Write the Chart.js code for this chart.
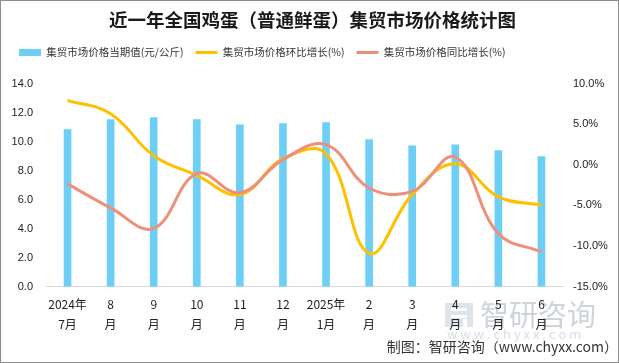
<!DOCTYPE html>
<html>
<head>
<meta charset="utf-8">
<script src="https://cdn.jsdelivr.net/npm/chart.js@4"></script>
<style>
  html, body { margin: 0; padding: 0; background: #fff; }
  #wrap { width: 619px; height: 363px; box-sizing: border-box; border: 1px solid #8c8c8c; }
  canvas { display: block; }
</style>
</head>
<body>
<div id="wrap"><canvas id="price-chart" width="617" height="361"></canvas></div>
<script>
// months shown on the x axis (two lines each)
var months = [['2024年', '7月'], ['8', '月'], ['9', '月'], ['10', '月'], ['11', '月'], ['12', '月'],
              ['2025年', '1月'], ['2', '月'], ['3', '月'], ['4', '月'], ['5', '月'], ['6', '月']];
// 集贸市场价格当期值 (元/公斤)
var prices = [10.83, 11.52, 11.66, 11.52, 11.17, 11.24, 11.31, 10.14, 9.72, 9.79, 9.38, 8.97];
// 环比增长 (%)
var momGrowth = [7.94, 6.3, 1.13, -1.29, -3.67, 0.76, 1.38, -10.9, -3.67, 0.15, -3.95, -4.94];
// 同比增长 (%)
var yoyGrowth = [-2.35, -5.31, -7.82, -1.08, -3.43, 0.64, 2.49, -2.85, -3.26, 0.97, -8.47, -10.73];

var leftTicks = [0, 2, 4, 6, 8, 10, 12, 14];
var rightTicks = [-15, -10, -5, 0, 5, 10];

var cjk = "'Noto Sans CJK SC', 'Microsoft YaHei', sans-serif";

// light watermark in the lower right corner, behind the axis labels
var watermark = {
  id: 'watermark',
  beforeDraw: function(chart) {
    var ctx = chart.ctx;
    ctx.save();
    ctx.fillStyle = '#dfe3ea';
    ctx.fillRect(444, 302, 28, 24);
    ctx.fillStyle = '#ffffff';
    ctx.fillRect(450, 307, 16, 3);
    ctx.fillRect(450, 314, 16, 3);
    ctx.fillRect(462, 318, 4, 8);
    ctx.fillStyle = '#cfd3da';
    ctx.font = '29px ' + cjk;
    ctx.textBaseline = 'middle';
    ctx.fillText('智研咨询', 479, 314);
    ctx.font = '13px ' + cjk;
    ctx.fillStyle = '#d9dde3';
    ctx.fillText('w w w . c h y x x . c o m', 446, 333);
    ctx.restore();
  }
};

// leave some room between the legend and the plot
var legendGap = {
  id: 'legendGap',
  beforeUpdate: function(chart) {
    var lg = chart.legend;
    if (lg && !lg._gapDone) {
      var fit = lg.fit;
      lg.fit = function() { fit.call(this); this.height += 16; };
      lg._gapDone = true;
    }
  }
};

var ctx = document.getElementById('price-chart').getContext('2d');
new Chart(ctx, {
  type: 'bar',
  data: {
    labels: months,
    datasets: [{
      type: 'bar',
      label: '集贸市场价格当期值(元/公斤)',
      data: prices,
      backgroundColor: '#6dcff6',
      barThickness: 7,
      yAxisID: 'y',
      order: 2,
      pointStyle: 'rect'
    }, {
      type: 'line',
      label: '集贸市场价格环比增长(%)',
      data: momGrowth,
      borderColor: '#ffc000',
      backgroundColor: '#ffc000',
      borderWidth: 3,
      tension: 0.4,
      pointRadius: 0,
      yAxisID: 'y1',
      order: 1,
      pointStyle: 'line'
    }, {
      type: 'line',
      label: '集贸市场价格同比增长(%)',
      data: yoyGrowth,
      borderColor: '#ee9079',
      backgroundColor: '#ee9079',
      borderWidth: 3,
      tension: 0.4,
      pointRadius: 0,
      yAxisID: 'y1',
      order: 0,
      pointStyle: 'line'
    }]
  },
  options: {
    responsive: false,
    animation: false,
    layout: { padding: { left: 6, right: 0, top: 0, bottom: 4 } },
    plugins: {
      title: {
        display: true,
        text: '近一年全国鸡蛋（普通鲜蛋）集贸市场价格统计图',
        color: '#1a1a1a',
        font: { size: 18.5, weight: 'bold', family: cjk },
        padding: { top: 8, bottom: 4 }
      },
      legend: {
        display: true,
        align: 'start',
        labels: {
          usePointStyle: true,
          pointStyleWidth: 22,
          boxWidth: 22,
          boxHeight: 7,
          padding: 12,
          color: '#333',
          font: { size: 10.5, family: cjk },
          sort: function(a, b) { return a.datasetIndex - b.datasetIndex; }
        }
      },
      subtitle: {
        display: true,
        position: 'bottom',
        align: 'end',
        text: '制图：智研咨询（www.chyxx.com）',
        color: '#333',
        font: { size: 14, family: cjk },
        padding: { top: -4, bottom: 3 }
      },
      tooltip: { enabled: false }
    },
    scales: {
      x: {
        grid: { display: false, drawTicks: false },
        border: { display: true, color: '#d9d9d9', width: 1 },
        ticks: {
          color: '#222',
          maxRotation: 0,
          autoSkip: false,
          padding: 8,
          font: { size: 12, family: cjk, lineHeight: 1.65 }
        }
      },
      y: {
        position: 'left',
        min: 0,
        max: 14,
        afterFit: function(scale) { scale.width = 39; },
        afterBuildTicks: function(scale) { scale.ticks = leftTicks.map(function(v) { return { value: v }; }); },
        grid: { display: false, drawTicks: false },
        border: { display: false },
        ticks: {
          color: '#222',
          padding: 13,
          font: { size: 11, family: "'Liberation Sans', Arial, sans-serif" },
          callback: function(v) { return Number(v).toFixed(1); }
        }
      },
      y1: {
        position: 'right',
        min: -15,
        max: 10,
        afterFit: function(scale) { scale.width = 55; },
        afterBuildTicks: function(scale) { scale.ticks = rightTicks.map(function(v) { return { value: v }; }); },
        grid: { display: false, drawTicks: false },
        border: { display: false },
        ticks: {
          color: '#222',
          padding: 10,
          font: { size: 11, family: "'Liberation Sans', Arial, sans-serif" },
          callback: function(v) { return Number(v).toFixed(1) + '%'; }
        }
      }
    }
  },
  plugins: [watermark, legendGap]
});
</script>
</body>
</html>
